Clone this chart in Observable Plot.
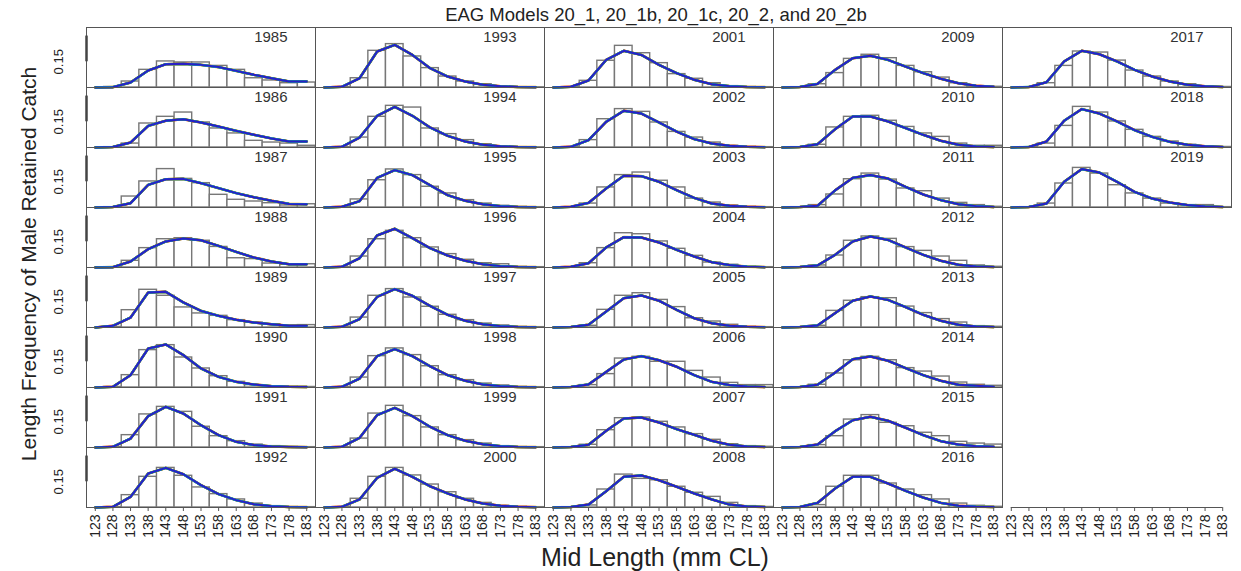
<!DOCTYPE html>
<html>
<head>
<meta charset="utf-8">
<script src="https://cdn.jsdelivr.net/npm/d3@7"></script>
<script src="https://cdn.jsdelivr.net/npm/@observablehq/plot@0.6"></script>
<style>
  body { margin: 0; background: #fff; font-family: "Liberation Sans", Arial, sans-serif; }
  #wrap { position: relative; width: 1241px; height: 571px; overflow: hidden; }
  #chart { position: absolute; left: 0; top: 0; }
  .lab { position: absolute; white-space: nowrap; color: #222; line-height: 1; }
  #title { left: 656px; top: 15px; transform: translate(-50%, -50%); font-size: 18.5px; }
  #ytitle { left: 28px; top: 264px; transform: translate(-50%, -50%) rotate(-90deg); font-size: 21px; }
  #xtitle { left: 655px; top: 557px; transform: translate(-50%, -50%); font-size: 25px; }
</style>
</head>
<body>
<div id="wrap">
  <div id="chart"></div>
  <div class="lab" id="title">EAG Models 20_1, 20_1b, 20_1c, 20_2, and 20_2b</div>
  <div class="lab" id="ytitle">Length Frequency of Male Retained Catch</div>
  <div class="lab" id="xtitle">Mid Length (mm CL)</div>
</div>
<script>
// ---- data ----
const lengths = [123, 128, 133, 138, 143, 148, 153, 158, 163, 168, 173, 178, 183];
const xTicks = [123, 128, 133, 138, 143, 148, 153, 158, 163, 168, 173, 178, 183];
const yTicks = [0.15, 0.30];
const yTickLabels = ["0.15", ""];
const years = [1985, 1986, 1987, 1988, 1989, 1990, 1991, 1992,
               1993, 1994, 1995, 1996, 1997, 1998, 1999, 2000,
               2001, 2002, 2003, 2004, 2005, 2006, 2007, 2008,
               2009, 2010, 2011, 2012, 2013, 2014, 2015, 2016,
               2017, 2018, 2019];
const models = ["20_1", "20_1b", "20_1c", "20_2", "20_2b"];
const modelColors = ["#f2a900", "#d62020", "#00a650", "#00b5e2", "#2a1fc4"];

// observed proportions (bars), one row per year, bins 123..183
const observed = [
  [0, 0.003, 0.035, 0.103, 0.152, 0.146, 0.146, 0.126, 0.103, 0.054, 0.041, 0.025, 0.029], // 1985
  [0, 0.002, 0.023, 0.140, 0.179, 0.204, 0.146, 0.111, 0.082, 0.039, 0.029, 0.023, 0.010], // 1986
  [0, 0.002, 0.064, 0.152, 0.224, 0.167, 0.142, 0.074, 0.045, 0.035, 0.025, 0.012, 0.019], // 1987
  [0, 0.002, 0.039, 0.113, 0.165, 0.171, 0.156, 0.120, 0.054, 0.049, 0.023, 0.016, 0.019], // 1988
  [0, 0.003, 0.101, 0.220, 0.185, 0.117, 0.082, 0.068, 0.043, 0.029, 0.019, 0.010, 0.014], // 1989
  [0, 0.003, 0.072, 0.218, 0.247, 0.175, 0.111, 0.066, 0.033, 0.014, 0.006, 0.004, 0.003], // 1990
  [0, 0.002, 0.072, 0.193, 0.237, 0.208, 0.121, 0.066, 0.037, 0.017, 0.008, 0.003, 0.002], // 1991
  [0, 0.002, 0.072, 0.179, 0.231, 0.185, 0.117, 0.078, 0.047, 0.023, 0.008, 0.003, 0.002], // 1992
  [0, 0.002, 0.054, 0.214, 0.253, 0.181, 0.113, 0.064, 0.035, 0.019, 0.006, 0.002, 0.001], // 1993
  [0, 0.002, 0.058, 0.179, 0.243, 0.233, 0.111, 0.078, 0.043, 0.019, 0.006, 0.002, 0.001], // 1994
  [0, 0.002, 0.047, 0.159, 0.222, 0.189, 0.121, 0.082, 0.043, 0.023, 0.010, 0.004, 0.002], // 1995
  [0, 0.002, 0.064, 0.165, 0.214, 0.171, 0.117, 0.078, 0.045, 0.025, 0.019, 0.004, 0.002], // 1996
  [0, 0.002, 0.058, 0.185, 0.224, 0.175, 0.121, 0.074, 0.043, 0.023, 0.012, 0.004, 0.002], // 1997
  [0, 0.002, 0.058, 0.183, 0.228, 0.189, 0.124, 0.072, 0.043, 0.023, 0.012, 0.004, 0.002], // 1998
  [0, 0.002, 0.052, 0.198, 0.243, 0.183, 0.117, 0.072, 0.043, 0.023, 0.008, 0.003, 0.002], // 1999
  [0, 0.002, 0.051, 0.179, 0.231, 0.187, 0.134, 0.089, 0.051, 0.027, 0.010, 0.004, 0.002], // 2000
  [0, 0.002, 0.039, 0.156, 0.243, 0.200, 0.142, 0.078, 0.051, 0.025, 0.008, 0.003, 0.002], // 2001
  [0, 0.002, 0.043, 0.165, 0.224, 0.208, 0.146, 0.091, 0.058, 0.029, 0.010, 0.004, 0.002], // 2002
  [0, 0.002, 0.023, 0.117, 0.189, 0.204, 0.156, 0.117, 0.052, 0.029, 0.012, 0.004, 0.002], // 2003
  [0, 0.002, 0.025, 0.113, 0.200, 0.194, 0.152, 0.109, 0.068, 0.029, 0.016, 0.004, 0.002], // 2004
  [0, 0.001, 0.010, 0.103, 0.185, 0.200, 0.161, 0.119, 0.054, 0.035, 0.016, 0.004, 0.002], // 2005
  [0, 0.002, 0.014, 0.078, 0.169, 0.179, 0.150, 0.150, 0.097, 0.058, 0.027, 0.014, 0.014], // 2006
  [0, 0.002, 0.016, 0.101, 0.171, 0.175, 0.150, 0.117, 0.078, 0.045, 0.019, 0.008, 0.004], // 2007
  [0, 0.002, 0.012, 0.105, 0.192, 0.167, 0.159, 0.121, 0.086, 0.062, 0.027, 0.008, 0.003], // 2008
  [0, 0.002, 0.019, 0.084, 0.167, 0.191, 0.171, 0.126, 0.089, 0.058, 0.025, 0.008, 0.004], // 2009
  [0, 0.002, 0.016, 0.117, 0.179, 0.185, 0.156, 0.120, 0.082, 0.062, 0.023, 0.010, 0.010], // 2010
  [0, 0.002, 0.014, 0.076, 0.165, 0.198, 0.163, 0.111, 0.095, 0.052, 0.027, 0.014, 0.004], // 2011
  [0, 0.002, 0.012, 0.070, 0.156, 0.181, 0.167, 0.119, 0.097, 0.064, 0.039, 0.012, 0.004], // 2012
  [0, 0.002, 0.010, 0.097, 0.156, 0.177, 0.171, 0.122, 0.084, 0.049, 0.029, 0.008, 0.004], // 2013
  [0, 0.002, 0.016, 0.082, 0.159, 0.179, 0.159, 0.113, 0.093, 0.064, 0.029, 0.016, 0.010], // 2014
  [0, 0.002, 0.014, 0.066, 0.163, 0.189, 0.144, 0.124, 0.086, 0.066, 0.033, 0.023, 0.017], // 2015
  [0, 0.002, 0.014, 0.121, 0.185, 0.185, 0.140, 0.105, 0.072, 0.047, 0.023, 0.010, 0.004], // 2016
  [0, 0.002, 0.025, 0.126, 0.210, 0.204, 0.157, 0.099, 0.064, 0.035, 0.019, 0.006, 0.003], // 2017
  [0, 0.002, 0.023, 0.126, 0.237, 0.204, 0.152, 0.103, 0.062, 0.035, 0.016, 0.006, 0.003], // 2018
  [0, 0.002, 0.023, 0.140, 0.231, 0.198, 0.130, 0.082, 0.052, 0.023, 0.014, 0.014, 0.002]  // 2019
];

// model-predicted proportions (lines; the five models are visually indistinguishable)
const fitted = [
  [0, 0.002, 0.029, 0.099, 0.136, 0.138, 0.132, 0.119, 0.097, 0.074, 0.054, 0.035, 0.035], // 1985
  [0, 0.003, 0.029, 0.126, 0.156, 0.165, 0.146, 0.122, 0.097, 0.074, 0.053, 0.035, 0.035], // 1986
  [0, 0.003, 0.025, 0.132, 0.165, 0.167, 0.142, 0.113, 0.084, 0.060, 0.039, 0.021, 0.019], // 1987
  [0, 0.002, 0.035, 0.107, 0.152, 0.169, 0.159, 0.126, 0.091, 0.058, 0.035, 0.019, 0.019], // 1988
  [0, 0.010, 0.058, 0.204, 0.208, 0.146, 0.097, 0.068, 0.045, 0.029, 0.019, 0.010, 0.010], // 1989
  [0, 0.004, 0.072, 0.227, 0.251, 0.189, 0.111, 0.062, 0.033, 0.017, 0.008, 0.004, 0.003], // 1990
  [0, 0.004, 0.052, 0.183, 0.237, 0.198, 0.130, 0.072, 0.033, 0.014, 0.006, 0.003, 0.002], // 1991
  [0, 0.004, 0.062, 0.198, 0.231, 0.194, 0.130, 0.078, 0.043, 0.019, 0.008, 0.003, 0.002], // 1992
  [0, 0.004, 0.054, 0.210, 0.249, 0.190, 0.113, 0.064, 0.035, 0.016, 0.007, 0.003, 0.002], // 1993
  [0, 0.004, 0.058, 0.185, 0.237, 0.185, 0.117, 0.068, 0.035, 0.016, 0.007, 0.003, 0.002], // 1994
  [0, 0.004, 0.037, 0.173, 0.218, 0.189, 0.130, 0.072, 0.039, 0.019, 0.008, 0.003, 0.002], // 1995
  [0, 0.004, 0.054, 0.187, 0.226, 0.171, 0.113, 0.070, 0.039, 0.019, 0.008, 0.003, 0.002], // 1996
  [0, 0.004, 0.049, 0.179, 0.224, 0.185, 0.126, 0.074, 0.039, 0.019, 0.008, 0.003, 0.002], // 1997
  [0, 0.004, 0.052, 0.183, 0.224, 0.183, 0.124, 0.072, 0.039, 0.018, 0.008, 0.003, 0.002], // 1998
  [0, 0.004, 0.056, 0.189, 0.231, 0.183, 0.121, 0.072, 0.039, 0.019, 0.008, 0.003, 0.002], // 1999
  [0, 0.004, 0.047, 0.173, 0.226, 0.179, 0.124, 0.082, 0.047, 0.023, 0.010, 0.004, 0.002], // 2000
  [0, 0.004, 0.041, 0.161, 0.214, 0.190, 0.132, 0.084, 0.045, 0.019, 0.008, 0.003, 0.002], // 2001
  [0, 0.004, 0.043, 0.150, 0.214, 0.198, 0.146, 0.093, 0.049, 0.023, 0.010, 0.004, 0.002], // 2002
  [0, 0.004, 0.027, 0.111, 0.185, 0.183, 0.150, 0.101, 0.056, 0.023, 0.010, 0.004, 0.002], // 2003
  [0, 0.004, 0.025, 0.117, 0.177, 0.175, 0.146, 0.103, 0.064, 0.031, 0.014, 0.005, 0.002], // 2004
  [0, 0.003, 0.016, 0.093, 0.171, 0.187, 0.156, 0.103, 0.054, 0.025, 0.010, 0.004, 0.002], // 2005
  [0, 0.003, 0.018, 0.091, 0.163, 0.183, 0.159, 0.121, 0.072, 0.033, 0.014, 0.006, 0.003], // 2006
  [0, 0.003, 0.016, 0.097, 0.169, 0.175, 0.146, 0.107, 0.074, 0.039, 0.016, 0.006, 0.003], // 2007
  [0, 0.003, 0.017, 0.095, 0.179, 0.187, 0.159, 0.121, 0.082, 0.047, 0.017, 0.006, 0.003], // 2008
  [0, 0.003, 0.021, 0.103, 0.171, 0.185, 0.161, 0.122, 0.084, 0.051, 0.025, 0.010, 0.004], // 2009
  [0, 0.003, 0.019, 0.107, 0.181, 0.181, 0.152, 0.113, 0.074, 0.039, 0.016, 0.006, 0.003], // 2010
  [0, 0.003, 0.010, 0.100, 0.173, 0.189, 0.169, 0.120, 0.076, 0.043, 0.019, 0.008, 0.003], // 2011
  [0, 0.003, 0.012, 0.074, 0.152, 0.181, 0.161, 0.117, 0.074, 0.039, 0.016, 0.006, 0.003], // 2012
  [0, 0.003, 0.012, 0.084, 0.156, 0.181, 0.161, 0.119, 0.074, 0.039, 0.016, 0.006, 0.003], // 2013
  [0, 0.003, 0.016, 0.087, 0.165, 0.181, 0.156, 0.113, 0.072, 0.039, 0.016, 0.010, 0.004], // 2014
  [0, 0.003, 0.017, 0.095, 0.159, 0.179, 0.156, 0.115, 0.072, 0.037, 0.017, 0.008, 0.004], // 2015
  [0, 0.003, 0.027, 0.111, 0.179, 0.179, 0.140, 0.097, 0.058, 0.027, 0.010, 0.005, 0.003], // 2016
  [0, 0.003, 0.031, 0.152, 0.214, 0.194, 0.152, 0.103, 0.064, 0.035, 0.016, 0.007, 0.003], // 2017
  [0, 0.003, 0.035, 0.156, 0.224, 0.198, 0.152, 0.101, 0.062, 0.033, 0.016, 0.007, 0.003], // 2018
  [0, 0.003, 0.023, 0.150, 0.224, 0.204, 0.150, 0.091, 0.052, 0.029, 0.014, 0.006, 0.003]  // 2019
];

// ---- build tables for Plot ----
const perColumn = 8;
const binHalf = (lengths[1] - lengths[0]) / 2;
const panels = years.map((year, i) => ({year, label: String(year), col: Math.floor(i / perColumn), row: i % perColumn}));
const rows = [];
panels.forEach((p, i) => lengths.forEach((len, j) => rows.push({...p, len, obs: observed[i][j], fit: fitted[i][j]})));

const lineMarks = models.map((model, m) =>
  Plot.line(rows, {fx: "col", fy: "row", x: "len", y: "fit", stroke: modelColors[m], strokeWidth: 2.6 - m * 0.15})
);

const chart = Plot.plot({
  width: 1241,
  height: 571,
  marginLeft: 85,
  marginRight: 9,
  marginTop: 26,
  marginBottom: 64,
  style: {fontFamily: "'Liberation Sans', Arial, sans-serif", background: "white", color: "#222"},
  x: {domain: [lengths[0] - binHalf, lengths[lengths.length - 1] + binHalf]},
  y: {domain: [0, 0.35]},
  fx: {domain: d3.range(5), padding: 0, axis: null},
  fy: {domain: d3.range(perColumn), padding: 0, axis: null},
  marks: [
    Plot.rect(rows, {fx: "col", fy: "row", x1: d => d.len - binHalf, x2: d => d.len + binHalf, y1: 0, y2: "obs",
      fill: "white", stroke: "#777", strokeWidth: 1.4}),
    ...lineMarks,
    Plot.frame({stroke: "#555", strokeWidth: 1}),
    Plot.text(panels, {fx: "col", fy: "row", text: "label", frameAnchor: "top-right", textAnchor: "end", lineAnchor: "top",
      dx: -28, dy: 4, fontSize: 15, fill: "#333"}),
    Plot.axisX(xTicks, {facetAnchor: "bottom", tickRotate: -90, tickSize: 4, tickPadding: 3, fontSize: 14, label: null, stroke: "#555", fill: "#222"}),
    Plot.ruleY([0], {x1: xTicks[0], x2: xTicks[xTicks.length - 1], facetAnchor: "bottom", stroke: "#555"}),
    Plot.axisY(yTicks, {facetAnchor: "left", tickRotate: -90, tickSize: 0, tickPadding: 24, fontSize: 13, label: null, fill: "#222",
      tickFormat: d => yTickLabels[yTicks.indexOf(d)]}),
    Plot.ruleX([lengths[0] - binHalf], {y1: yTicks[0], y2: yTicks[1], facetAnchor: "left", stroke: "#444", strokeWidth: 2.5})
  ]
});
document.getElementById("chart").appendChild(chart);
</script>
</body>
</html>
